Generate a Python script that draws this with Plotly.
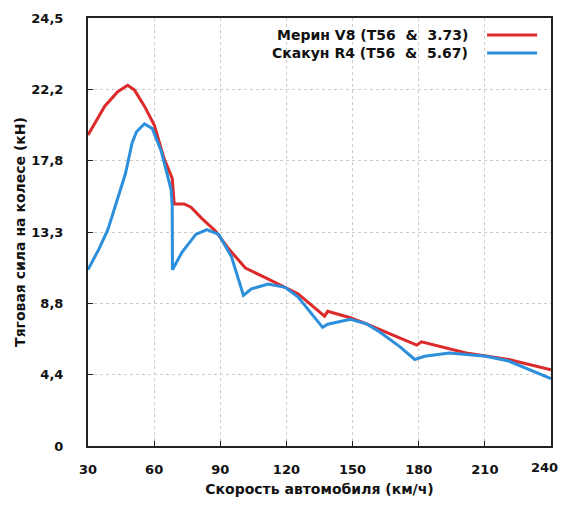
import plotly.graph_objects as go

# Мерин V8 (T56 & 3.73)
merin_speed = [30, 37.6, 43.5, 48.0, 51.1, 55.6, 60.1, 64.6, 68.2, 68.5, 69.1, 73.6, 76.7,
               81.6, 87.9, 93.8, 101.4, 110.4, 119.4, 125.2, 137.3, 138.7, 149.0, 156.6,
               167.0, 179.1, 181.3, 201.5, 220.8, 240.0]
merin_force = [19.4, 21.2, 22.1, 22.5, 22.2, 21.2, 20.0, 17.9, 16.7, 16.2, 15.1, 15.1, 14.9,
               14.2, 13.4, 12.3, 11.1, 10.5, 9.9, 9.5, 8.1, 8.4, 8.0, 7.6,
               7.0, 6.3, 6.5, 5.8, 5.4, 4.75]

# Скакун R4 (T56 & 5.67)
skakun_speed = [30, 35, 39, 43, 47, 50, 52, 55.6, 59.2, 63.2, 67.7, 68.2, 68.3, 72.7, 78.9,
                83.9, 89.3, 95.1, 100.5, 104.1, 111.7, 119.4, 125.2, 136.4, 138.7, 149.0,
                156.6, 162.5, 171.4, 178.2, 182.7, 193.9, 210.5, 220.8, 240.0]
skakun_force = [11.0, 12.3, 13.5, 15.2, 17.0, 18.9, 19.6, 20.1, 19.8, 18.4, 16.0, 15.0, 11.0, 12.1, 13.2,
                13.5, 13.2, 11.8, 9.4, 9.8, 10.1, 9.9, 9.3, 7.4, 7.6, 7.9,
                7.6, 7.1, 6.2, 5.4, 5.6, 5.8, 5.6, 5.3, 4.2]

x_ticks = [30, 60, 90, 120, 150, 180, 210, 240]
y_tickvals = [0, 4.45, 8.9, 13.35, 17.8, 22.25, 26.7]
y_ticktext = ["0", "4,4", "8,8", "13,3", "17,8", "22,2", "24,5"]

series_names = ["Мерин V8 (T56  &  3.73)", "Скакун R4 (T56  &  5.67)"]
series_colors = ["#dc2a2a", "#2b8fdc"]

FONT = "DejaVu Sans"

fig = go.Figure()
fig.add_trace(go.Scatter(x=merin_speed, y=merin_force, mode="lines",
                         line=dict(color=series_colors[0], width=3), name=series_names[0]))
fig.add_trace(go.Scatter(x=skakun_speed, y=skakun_force, mode="lines",
                         line=dict(color=series_colors[1], width=3), name=series_names[1]))

# gnuplot-style legend: text right-aligned, sample line to its right
legend_rows_y = [0.960, 0.918]
for name, col, yy in zip(series_names, series_colors, legend_rows_y):
    fig.add_annotation(x=0.825, y=yy, xref="paper", yref="paper", text="<b>" + name + "</b>",
                       showarrow=False, xanchor="right", yanchor="middle",
                       font=dict(family=FONT, size=14, color="#111"))
    fig.add_shape(type="line", xref="paper", yref="paper", x0=0.862, x1=0.970, y0=yy, y1=yy,
                  line=dict(color=col, width=3))

axis_common = dict(showline=True, linecolor="#222", linewidth=2, mirror=True,
                   ticks="inside", ticklen=5, tickcolor="#222",
                   showgrid=True, gridcolor="#cccccc", griddash="dot", gridwidth=1,
                   zeroline=False, automargin=False,
                   tickfont=dict(family=FONT, size=13, color="#111"))

# last x tick label sits at the page edge; draw it as an annotation so it is not dropped
x_ticktext = ["<b>" + str(v) + "</b>" for v in x_ticks]
last_label = x_ticktext[-1]
x_ticktext[-1] = ""

fig.update_xaxes(range=[30, 240], tickvals=x_ticks, ticktext=x_ticktext,
                 title=dict(text="<b>Скорость автомобиля (км/ч)</b>", standoff=23,
                            font=dict(family=FONT, size=14, color="#111")),
                 ticklabelstandoff=10, **axis_common)
fig.add_annotation(x=x_ticks[-1], xref="x", y=0, yref="paper", text=last_label,
                   showarrow=False, xanchor="right", yanchor="top", xshift=9, yshift=-12,
                   font=dict(family=FONT, size=13, color="#111"))
fig.update_yaxes(range=[0, 26.7], tickvals=y_tickvals,
                 ticktext=["<b>" + t + "</b>" for t in y_ticktext],
                 title=dict(text="<b>Тяговая сила на колесе (кН)</b>", standoff=2,
                            font=dict(family=FONT, size=14, color="#111")),
                 ticklabelstandoff=20, **axis_common)

fig.update_layout(width=552, height=489, margin=dict(l=80, r=9, t=10, b=51),
                  paper_bgcolor="white", plot_bgcolor="white", showlegend=False,
                  font=dict(family=FONT))

fig.write_html("out.html")
